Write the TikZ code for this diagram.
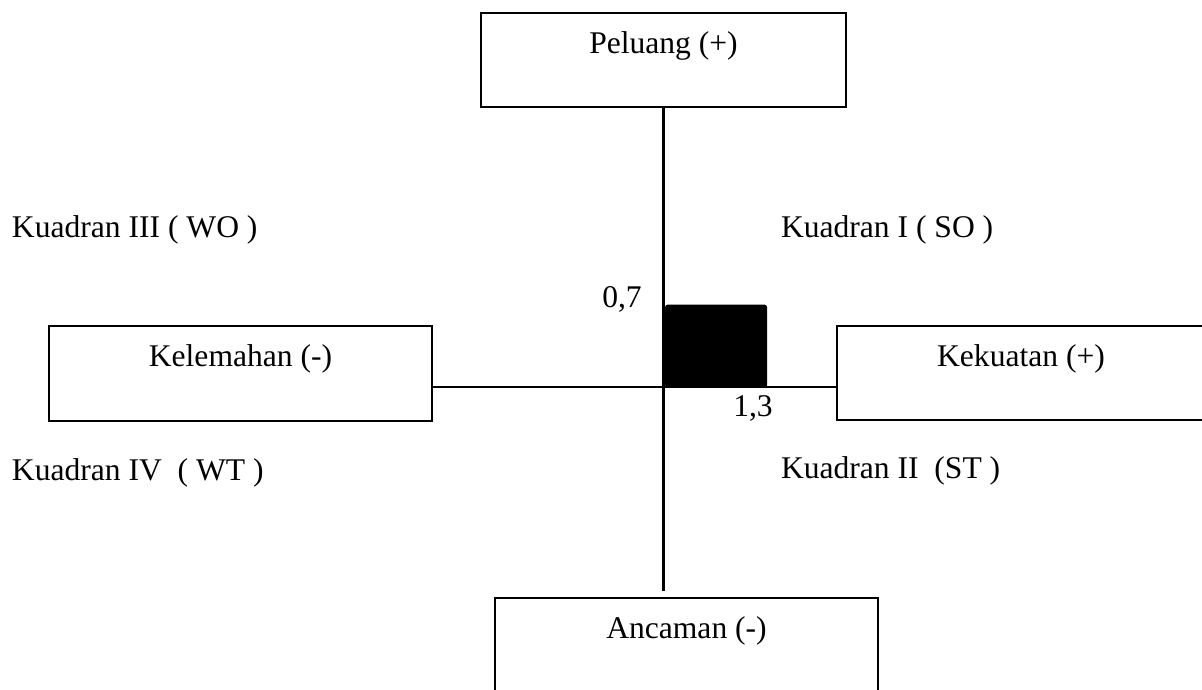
\documentclass[tikz,border=0pt]{standalone}
\usepackage{fontspec}
\setmainfont{Liberation Serif}
\usepackage{tikz}
\usetikzlibrary{positioning}
\tikzset{every node/.style={inner sep=0pt, outer sep=0pt}}

\begin{document}
\begin{tikzpicture}[x=0.38pt,y=-0.38pt,font=\fontsize{12pt}{14pt}\selectfont]
    \useasboundingbox (0,0) rectangle (1202,689);

    % four boxes
    \node[rectangle,draw=black,line width=0.6pt,minimum width=138.7pt,minimum height=35.7pt] (Peluang) at (663.5,60) {};
    \node[anchor=base] (PeluangText) at ([yshift=-15.2pt]Peluang.north) {Peluang (+)};

    \node[rectangle,draw=black,line width=0.6pt,minimum width=145.5pt,minimum height=36pt] (Kelemahan) at (240.5,373.5) {};
    \node[anchor=base] (KelemahanText) at ([yshift=-15.2pt]Kelemahan.north) {Kelemahan (-)};

    \node[rectangle,draw=black,line width=0.6pt,minimum width=139.8pt,minimum height=35.7pt] (Kekuatan) at (1021,373) {};
    \node[anchor=base] (KekuatanText) at ([yshift=-15.2pt]Kekuatan.north) {Kekuatan (+)};

    \node[rectangle,draw=black,line width=0.6pt,minimum width=145.5pt,minimum height=36pt] (Ancaman) at (686.5,645.5) {};
    \node[anchor=base] (AncamanText) at ([yshift=-15.2pt]Ancaman.north) {Ancaman (-)};

    % axes
    \coordinate (Origin) at (663.5,387);
    \coordinate (AxisEnd) at (663.5,591);
    \draw[line width=0.8pt] (Peluang.south) -- (AxisEnd);
    \draw[line width=0.8pt] (Kelemahan.east |- Origin) -- (Kekuatan.west |- Origin);

    % position
    \node[fill=black,rounded corners=1pt,anchor=south west,minimum width=38.8pt,minimum height=31.5pt] (Posisi) at (665,387.5) {};
    \node[anchor=base] (PosisiY) at (622,307) {0,7};
    \node[anchor=base] (PosisiX) at (753,416) {1,3};

    % quadrants
    \node[anchor=base west] (KuadranIII) at (12,237) {Kuadran III ( WO )};
    \node[anchor=base west] (KuadranI) at (781,237) {Kuadran I ( SO )};
    \node[anchor=base west] (KuadranIV) at (12,480) {Kuadran IV~ ( WT )};
    \node[anchor=base west] (KuadranII) at (781,478) {Kuadran II~ (ST )};

\end{tikzpicture}
\end{document}
